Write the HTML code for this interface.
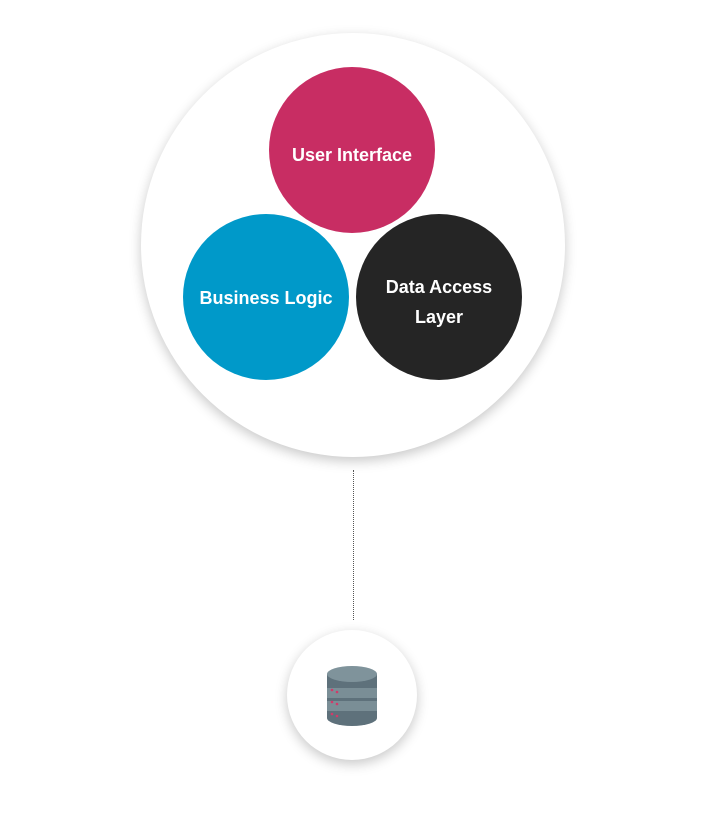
<!DOCTYPE html>
<html><head><style>
body{margin:0;width:715px;height:826px;background:#fff;overflow:hidden;position:relative;font-family:"Liberation Sans",sans-serif}
.c{position:absolute;border-radius:50%}
.t{display:flex;align-items:center;justify-content:center;text-align:center;color:#fff;font-weight:bold;font-size:18px;line-height:30px;box-sizing:border-box}
</style></head><body>
<div class="c" style="left:141px;top:33px;width:424px;height:424px;background:#fff;box-shadow:0 4px 12px rgba(0,0,0,0.22)"></div>
<div class="c t" style="left:269px;top:67px;width:166px;height:166px;background:#c82d63;padding-top:10px">User Interface</div>
<div class="c t" style="left:183px;top:214px;width:166px;height:166px;background:#0099c9;padding-top:2px">Business Logic</div>
<div class="c t" style="left:356px;top:214px;width:166px;height:166px;background:#252525;padding-top:10px">Data Access<br>Layer</div>
<div style="position:absolute;left:353px;top:470px;height:150px;border-left:1px dotted #555"></div>
<div class="c" style="left:287px;top:630px;width:130px;height:130px;background:#fff;box-shadow:0 4px 12px rgba(0,0,0,0.22)"></div>
<svg style="position:absolute;left:0;top:0" width="715" height="826">
<rect x="327" y="674" width="50" height="44" fill="#5e717b"/>
<ellipse cx="352" cy="718" rx="25" ry="8" fill="#5e717b"/>
<rect x="327" y="688" width="50" height="10" fill="#7a8e96"/>
<rect x="327" y="701" width="50" height="10" fill="#7a8e96"/>
<ellipse cx="352" cy="674" rx="25" ry="8" fill="#7f939b"/>
<g fill="#d23a6a"><circle cx="332" cy="690" r="1.3"/><circle cx="337" cy="692" r="1.3"/><circle cx="332" cy="702" r="1.3"/><circle cx="337" cy="704" r="1.3"/><circle cx="332" cy="714" r="1.3"/><circle cx="337" cy="716" r="1.3"/></g>
</svg>
</body></html>
